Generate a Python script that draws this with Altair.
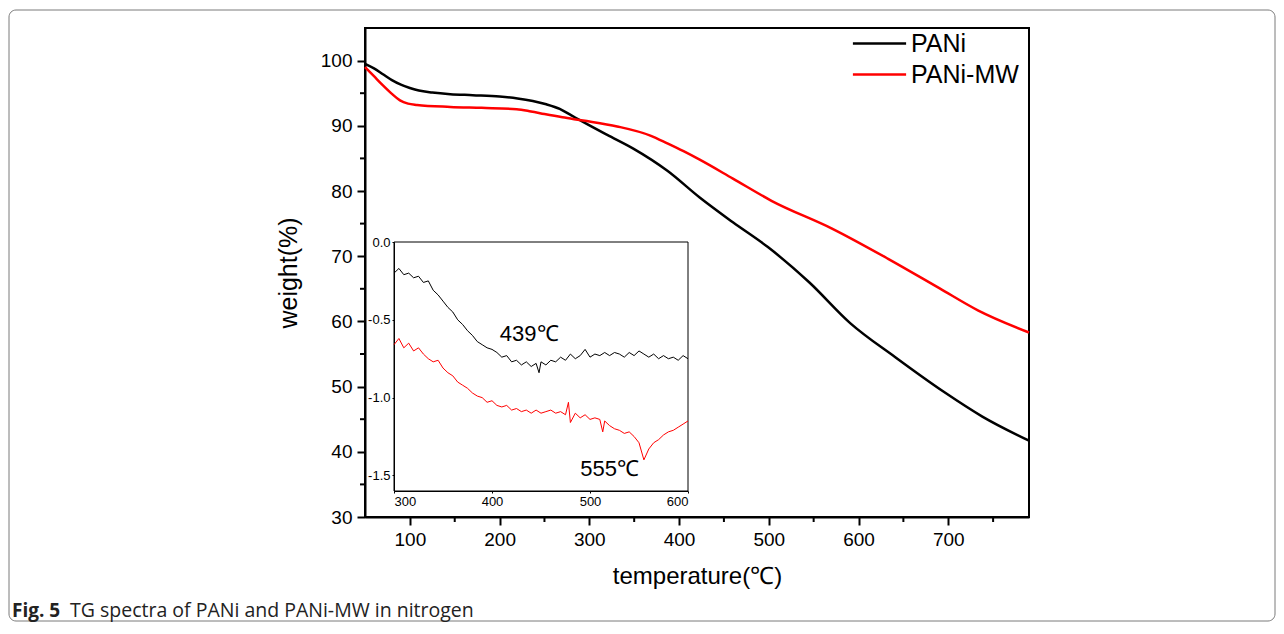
import altair as alt
import pandas as pd

FONT = "Liberation Sans"

# ---- main TG curves (temperature, weight %) ----
PANI_T = [50, 60, 70, 80, 90, 100, 110, 125, 145, 170, 200, 220, 237, 252, 267, 280, 293,
          320, 349, 387, 423, 460, 499, 545, 591, 641, 695, 738, 790]
PANI_W = [99.5, 98.8, 97.9, 97.0, 96.3, 95.8, 95.4, 95.1, 94.85, 94.7, 94.5, 94.2, 93.8, 93.3, 92.6, 91.6, 90.6,
          88.6, 86.5, 83.1, 79.0, 75.2, 71.4, 66.0, 59.7, 54.5, 49.2, 45.4, 41.7]
MW_T = [50, 60, 70, 80, 89, 98, 108, 145, 180, 219, 235, 250, 270, 293, 331, 368, 387, 405, 423, 460,
        503, 571, 633, 690, 733, 790]
MW_W = [99.0, 97.6, 96.2, 94.9, 93.9, 93.4, 93.2, 92.9, 92.75, 92.55, 92.2, 91.8, 91.3, 90.8, 89.9, 88.5,
        87.3, 86.1, 84.8, 81.9, 78.5, 74.2, 69.6, 65.1, 61.7, 58.3]

SERIES = ["PANi", "PANi-MW"]
COLORS = ["#000000", "#ff0000"]

X_TICKS = [100, 200, 300, 400, 500, 600, 700]
X_MINOR = [150, 250, 350, 450, 550, 650, 750]
Y_TICKS = [30, 40, 50, 60, 70, 80, 90, 100]
Y_MINOR = [35, 45, 55, 65, 75, 85, 95]

# ---- inset DTG curves ----
IB_T = [300, 305, 310, 315, 320, 325, 330, 335, 340, 345,
        350, 355, 360, 365, 370, 375, 380, 385, 390, 395,
        400, 405, 410, 415, 420, 425, 430, 435, 440, 445,
        448,
        450, 455, 460, 465, 470, 475, 480, 485, 490, 495,
        500, 505, 510, 515, 520, 525, 530, 535, 540, 545,
        550, 555, 560, 565, 570, 575, 580, 585, 590, 595,
        600]
IB_V = [-0.20, -0.17, -0.21, -0.20, -0.23, -0.22, -0.26, -0.25, -0.31, -0.34,
        -0.38, -0.42, -0.45, -0.50, -0.53, -0.57, -0.60, -0.64, -0.66, -0.68,
        -0.69, -0.71, -0.74, -0.73, -0.77, -0.76, -0.79, -0.77, -0.80, -0.78,
        -0.84,
        -0.77, -0.79, -0.76, -0.77, -0.74, -0.76, -0.72, -0.75, -0.73, -0.69,
        -0.74, -0.72, -0.73, -0.71, -0.73, -0.71, -0.72, -0.74, -0.71, -0.73,
        -0.70, -0.72, -0.74, -0.72, -0.75, -0.73, -0.75, -0.74, -0.76, -0.73,
        -0.75]
IR_T = [300, 305, 310, 315, 320, 325, 330, 335, 340, 345,
        350, 355, 360, 365, 370, 375, 380, 385, 390, 395,
        400, 405, 410, 415, 420, 425, 430, 435, 440, 445,
        450, 455, 460, 465, 470, 475,
        478,
        480, 485, 490, 495, 500, 505, 510,
        513,
        515, 520, 525, 530, 535, 540, 545, 550,
        555,
        560, 565, 570, 575, 580, 585, 590, 595, 600]
IR_V = [-0.66, -0.62, -0.68, -0.65, -0.70, -0.68, -0.72, -0.75, -0.77, -0.76,
        -0.81, -0.84, -0.86, -0.90, -0.92, -0.94, -0.97, -0.99, -1.00, -1.03,
        -1.02, -1.05, -1.06, -1.05, -1.08, -1.07, -1.09, -1.08, -1.10, -1.08,
        -1.10, -1.09, -1.08, -1.10, -1.09, -1.11,
        -1.03,
        -1.16, -1.10, -1.13, -1.11, -1.14, -1.13, -1.14,
        -1.22,
        -1.15, -1.18, -1.20, -1.21, -1.23, -1.22, -1.25, -1.29,
        -1.40,
        -1.33, -1.29, -1.27, -1.24, -1.22, -1.21, -1.19, -1.17, -1.15]
INSET_X_TICKS = [300, 400, 500, 600]
INSET_Y_TICKS = [0.0, -0.5, -1.0, -1.5]
ANN_T = [408, 490]
ANN_V = [-0.59, -1.457]
ANN_TEXT = ["439\u2103", "555\u2103"]

CAPTION_BOLD = "Fig. 5"
CAPTION_TEXT = "TG spectra of PANi and PANi-MW in nitrogen"

W, H = 664, 489

# ---- scales / axes ----
xs = alt.Scale(domain=[50, 790], nice=False, zero=False)
ys = alt.Scale(domain=[30, 105], nice=False, zero=False)
x_axis = alt.Axis(values=X_TICKS, orient="bottom", grid=False, tickSize=8, tickWidth=2,
                  domainWidth=2, domainColor="black", tickColor="black",
                  labelFont=FONT, labelFontSize=19, labelColor="black", labelPadding=5,
                  title="temperature(\u2103)", titleFont=FONT, titleFontSize=24,
                  titleFontWeight="normal", titleColor="black", titlePadding=15)
y_axis = alt.Axis(values=Y_TICKS, orient="left", grid=False, tickSize=8, tickWidth=2,
                  domainWidth=2, domainColor="black", tickColor="black",
                  labelFont=FONT, labelFontSize=19, labelColor="black", labelPadding=5,
                  title="weight(%)", titleFont=FONT, titleFontSize=25,
                  titleFontWeight="normal", titleColor="black", titlePadding=19)

main_df = pd.DataFrame({
    "t": PANI_T + MW_T,
    "w": PANI_W + MW_W,
    "sample": [SERIES[0]] * len(PANI_T) + [SERIES[1]] * len(MW_T),
})

lines = alt.Chart(main_df).mark_line(strokeWidth=2.5, interpolate="monotone").encode(
    x=alt.X("t:Q", scale=xs, axis=x_axis),
    y=alt.Y("w:Q", scale=ys, axis=y_axis),
    color=alt.Color("sample:N", scale=alt.Scale(domain=SERIES, range=COLORS),
                    legend=alt.Legend(title=None, orient="none", legendX=499, legendY=0,
                                      symbolType="M-1.9,0H1.9", symbolSize=784,
                                      symbolStrokeWidth=2.5, labelFont=FONT,
                                      labelFontSize=25, labelColor="black",
                                      labelOffset=16, rowPadding=2, padding=0)),
)

minor_x = alt.Chart(pd.DataFrame({"t": X_MINOR})).mark_rule(color="black", strokeWidth=2).encode(
    x=alt.X("t:Q", scale=xs, axis=x_axis),
    y=alt.value(H), y2=alt.value(H + 5),
)
minor_y = alt.Chart(pd.DataFrame({"w": Y_MINOR})).mark_rule(color="black", strokeWidth=2).encode(
    y=alt.Y("w:Q", scale=ys, axis=y_axis),
    x=alt.value(0), x2=alt.value(-5),
)

frame = alt.Chart(pd.DataFrame({"a": [0]})).mark_rect(
    fillOpacity=0, stroke="#7a7a7a", strokeWidth=1, cornerRadius=7
).encode(x=alt.value(-356), x2=alt.value(910), y=alt.value(-18), y2=alt.value(593))

cap1 = alt.Chart(pd.DataFrame({"a": [0]})).mark_text(
    text=CAPTION_BOLD, font="Open Sans", fontSize=19, fontWeight="bold", align="left",
    baseline="alphabetic", color="#222"
).encode(x=alt.value(-353), y=alt.value(589))
cap2 = alt.Chart(pd.DataFrame({"a": [0]})).mark_text(
    text=CAPTION_TEXT, font="Open Sans", fontSize=19.5, align="left",
    baseline="alphabetic", color="#222"
).encode(x=alt.value(-295), y=alt.value(589))

main = alt.layer(frame, cap1, cap2, minor_x, minor_y, lines)

# ---- inset ----
I_LEFT, I_RIGHT, I_TOP, I_BOTTOM = 29, 323, 214, 463
ixs = alt.Scale(domain=[300, 600], range=[I_LEFT, I_RIGHT], nice=False, zero=False)
iys = alt.Scale(domain=[-1.6, 0], range=[I_BOTTOM, I_TOP], nice=False, zero=False)
ix_axis = alt.Axis(values=INSET_X_TICKS, orient="bottom", offset=-(H - I_BOTTOM), grid=False,
                   tickSize=2, domainWidth=1, domainColor="black", tickColor="black",
                   labelFont=FONT, labelFontSize=13, labelColor="black", labelPadding=2,
                   title=None)
iy_axis = alt.Axis(values=INSET_Y_TICKS, orient="left", offset=-I_LEFT, grid=False,
                   tickSize=2, domainWidth=1, domainColor="black", tickColor="black",
                   labelFont=FONT, labelFontSize=13, labelColor="black", labelPadding=2,
                   labelExpr="replace(format(datum.value, '.1f'), '\u2212', '-')", title=None)

box = alt.Chart(pd.DataFrame({"x1": [300], "x2": [600], "y1": [-1.6], "y2": [0.0]})).mark_rect(
    fillOpacity=0, stroke="black", strokeWidth=1
).encode(
    x=alt.X("x1:Q", scale=ixs, axis=ix_axis), x2="x2:Q",
    y=alt.Y("y1:Q", scale=iys, axis=iy_axis), y2="y2:Q",
)
ib = alt.Chart(pd.DataFrame({"t": IB_T, "v": IB_V})).mark_line(color="black", strokeWidth=1).encode(
    x=alt.X("t:Q", scale=ixs, axis=ix_axis), y=alt.Y("v:Q", scale=iys, axis=iy_axis))
ir = alt.Chart(pd.DataFrame({"t": IR_T, "v": IR_V})).mark_line(color="red", strokeWidth=1).encode(
    x=alt.X("t:Q", scale=ixs, axis=ix_axis), y=alt.Y("v:Q", scale=iys, axis=iy_axis))
ann = alt.Chart(pd.DataFrame({"t": ANN_T, "v": ANN_V, "label": ANN_TEXT})).mark_text(
    font=FONT, fontSize=22, align="left", baseline="middle", color="black"
).encode(x=alt.X("t:Q", scale=ixs, axis=ix_axis), y=alt.Y("v:Q", scale=iys, axis=iy_axis),
         text="label:N")

inset = alt.layer(box, ib, ir, ann)

chart = alt.layer(main, inset).resolve_scale(x="independent", y="independent").properties(
    width=W, height=H,
    autosize=alt.AutoSizeParams(type="none"),
    padding={"left": 357, "top": 20, "right": 247, "bottom": 105},
).configure_view(stroke="black", strokeWidth=2)

chart.save("out.html", embed_options={"renderer": "svg", "actions": False})
